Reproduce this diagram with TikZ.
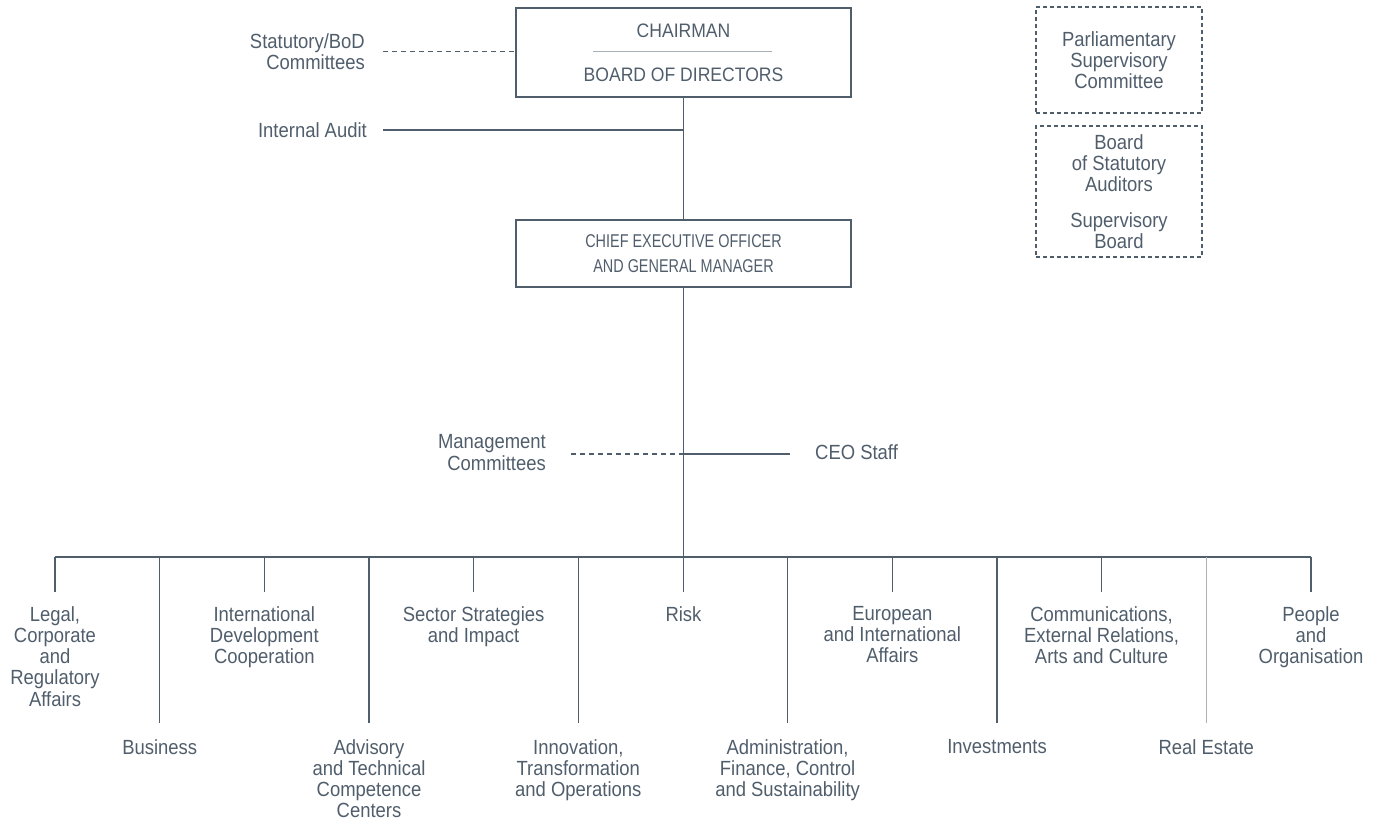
\documentclass[tikz,border=0pt]{standalone}
\usepackage{fontspec}
\setmainfont{Liberation Sans}
\newfontfamily\lblfont[FakeStretch=0.9]{Liberation Sans}
\newfontfamily\capfont[FakeStretch=0.9]{Liberation Sans}
\newfontfamily\ceofont[FakeStretch=0.78]{Liberation Sans}
\definecolor{ink}{RGB}{80,94,108}
\definecolor{rule}{RGB}{170,176,182}
\begin{document}
\begin{tikzpicture}[x=1pt,y=-1pt,
  lbl/.style={inner sep=0pt, align=center, text=ink, font={\lblfont\fontsize{20.5}{21.3}\selectfont}},
  capt/.style={inner sep=0pt, text=ink, font={\capfont\fontsize{19.5}{21.3}\selectfont}},
  box/.style={draw=ink, line width=1.2pt, rectangle, inner sep=0pt, align=center, text=ink},
  dbox/.style={draw=ink, line width=1.1pt, dash pattern=on 4pt off 3pt, rectangle, inner sep=0pt, align=center, text=ink, font={\lblfont\fontsize{20.5}{21.3}\selectfont}},
  conn/.style={draw=ink, line width=1.1pt},
  dconn/.style={draw=ink, line width=1.1pt, dash pattern=on 5pt off 4pt},
  lightconn/.style={draw=rule, line width=1pt},
  topdept/.style={lbl, anchor=north},
  botdept/.style={lbl, anchor=north}
]
\useasboundingbox (0,0) rectangle (1379,821);

% main boxes
\node[box, minimum width=335pt, minimum height=89pt] (chair) at (683.5,52.5) {};
\node[capt] (chairt) at (683.5,31) {CHAIRMAN};
\node[capt] (bodt) at (683.5,75) {BOARD OF DIRECTORS};
\draw[draw=rule, line width=1pt] (593,52) -- (772,52);

\node[box, minimum width=335pt, minimum height=67pt, font={\ceofont\fontsize{18.5}{25}\selectfont}] (ceo) at (683.5,253.5) {CHIEF EXECUTIVE OFFICER\\AND GENERAL MANAGER};

% side boxes
\node[dbox, minimum width=166pt, minimum height=106pt] (parl) at (1119,60) {Parliamentary\\Supervisory\\Committee};
\node[dbox, minimum width=166pt, minimum height=131pt] (bsa) at (1119,191.5) {Board\\of Statutory\\Auditors\\[14pt]Supervisory\\Board};

% side labels
\node[lbl, anchor=east, align=right] (stat) at (365,51.5) {Statutory/BoD\\Committees};
\node[lbl, anchor=east] (audit) at (367,130) {Internal Audit};
\node[lbl, anchor=east, align=right] (mgmt) at (546,452.5) {Management\\Committees};
\node[lbl, anchor=west] (staff) at (815,452) {CEO Staff};

% coordinates on the axis
\coordinate (ia) at (683.5,130);
\coordinate (mc) at (683.5,454);
\coordinate (bus) at (683.5,557);
\coordinate (busL) at (55,557);
\coordinate (busR) at (1311,557);

% departments, top row
\node[topdept] (legal) at (55,606) {Legal,\\Corporate\\and\\Regulatory\\Affairs};
\node[topdept] (intl) at (264.3,606) {International\\Development\\Cooperation};
\node[topdept] (sector) at (473.6,606) {Sector Strategies\\and Impact};
\node[topdept] (risk) at (683.5,606) {Risk};
\node[topdept] (euro) at (892.3,606) {European\\and International\\Affairs};
\node[topdept] (comm) at (1101.6,606) {Communications,\\External Relations,\\Arts and Culture};
\node[topdept] (people) at (1311,606) {People\\and\\Organisation};

% departments, bottom row
\node[botdept] (business) at (159.7,739) {Business};
\node[botdept] (advisory) at (369,739) {Advisory\\and Technical\\Competence\\Centers};
\node[botdept] (innov) at (578.3,739) {Innovation,\\Transformation\\and Operations};
\node[botdept] (admin) at (787.6,739) {Administration,\\Finance, Control\\and Sustainability};
\node[botdept] (invest) at (997,739) {Investments};
\node[botdept] (realest) at (1206.3,739) {Real Estate};

% connectors
\draw[conn] (chair) -- (ceo);
\draw[conn] (ceo) -- (bus);
\draw[conn, shorten >=16pt] (ia) -- (ia -| audit.east);
\draw[dconn, shorten <=18pt] (stat.east) -- (stat.east -| chair.west);
\draw[dconn, shorten >=23pt] (mc) -- (mc -| mgmt.east);
\draw[conn, shorten >=25pt] (mc) -- (mc -| staff.west);
\draw[conn] (busL) -- (busR);

\foreach \n in {legal,intl,sector,risk,euro,comm,people}
  \draw[conn, shorten >=14pt] (bus -| \n.north) -- (\n.north);
\foreach \n in {business,advisory,innov,admin,invest}
  \draw[conn, shorten >=16pt] (bus -| \n.north) -- (\n.north);
\draw[lightconn, shorten >=16pt] (bus -| realest.north) -- (realest.north);
\end{tikzpicture}
\end{document}
